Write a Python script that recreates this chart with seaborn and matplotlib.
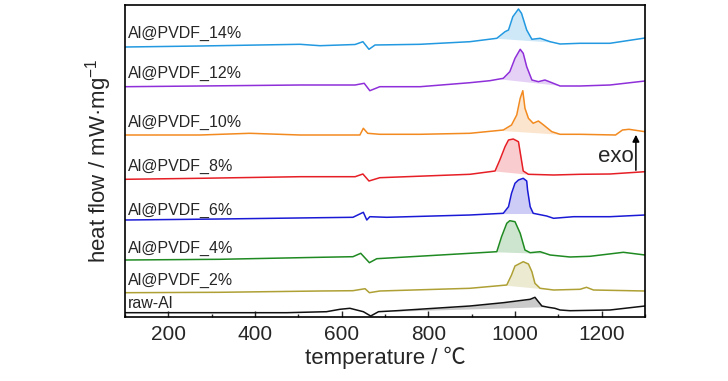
import numpy as np
import pandas as pd
import matplotlib
matplotlib.use("Agg")
import matplotlib.pyplot as plt
import seaborn as sns
from matplotlib.ticker import MultipleLocator

# sample names, top to bottom
samples = ['Al@PVDF_14%', 'Al@PVDF_12%', 'Al@PVDF_10%', 'Al@PVDF_8%',
           'Al@PVDF_6%', 'Al@PVDF_4%', 'Al@PVDF_2%', 'raw-Al']
colors = ['#2299e0', '#8e2fd9', '#f28a20', '#e61e25',
          '#1a1ad6', '#1f8a22', '#aea034', '#111111']

# stacked (offset) heat flow curves
t_14 = [100, 273, 504, 550, 631, 649, 663, 677, 781, 896, 958, 977, 985, 995, 1008, 1015, 1027, 1039, 1058, 1081, 1104, 1150, 1219, 1300]
hf_14 = [271, 272, 273.7, 272.3, 273.5, 276.3, 268.7, 273, 273.7, 276.3, 279.7, 286.3, 288, 301.3, 309, 304.7, 288, 278.7, 279.7, 276.3, 274, 274.7, 274.7, 280]

t_12 = [100, 273, 504, 631, 652, 665, 688, 781, 896, 942, 973, 988, 1000, 1012, 1019, 1027, 1039, 1054, 1069, 1085, 1104, 1150, 1219, 1300]
hf_12 = [231.3, 232, 233, 233, 234.7, 227.3, 231.3, 231.3, 235.3, 237.3, 239.7, 246.3, 259.7, 268.7, 264.7, 251.3, 238, 236.3, 238, 235.3, 232, 232, 233, 237]

t_10 = [100, 273, 388, 504, 642, 650, 660, 688, 781, 896, 973, 992, 1004, 1012, 1018, 1023, 1031, 1042, 1054, 1066, 1085, 1104, 1150, 1232, 1248, 1263, 1300]
hf_10 = [183, 183, 184.7, 183, 183, 189.7, 184.7, 183.7, 183.7, 184.7, 188, 193, 203, 219.7, 227.3, 209.7, 199.7, 194.7, 197, 193, 186.3, 183.7, 183.7, 183, 188, 188.7, 186.3]

t_8 = [100, 273, 504, 631, 649, 663, 688, 896, 954, 965, 977, 985, 996, 1008, 1013, 1019, 1031, 1089, 1150, 1219, 1300]
hf_8 = [138.7, 139.7, 141.3, 141.3, 144, 137, 140.3, 143.7, 147, 158, 171.3, 178, 179, 176.3, 163, 147, 143.7, 143, 143.7, 144, 146.3]

t_6 = [100, 319, 550, 626, 650, 658, 665, 704, 896, 973, 985, 992, 1000, 1008, 1019, 1027, 1029, 1035, 1042, 1073, 1089, 1135, 1219, 1300]
hf_6 = [98, 99, 100.3, 100.7, 105.7, 98, 101.3, 100.7, 103, 104.7, 111.3, 124.7, 134.7, 138, 139.7, 137, 128, 111.3, 104.7, 102, 99.7, 101.3, 101.3, 103]

t_4 = [100, 319, 550, 626, 644, 664, 681, 896, 958, 969, 981, 988, 1000, 1012, 1023, 1035, 1058, 1081, 1127, 1173, 1250, 1300]
hf_4 = [58, 58.7, 60.7, 61.3, 64.7, 55.3, 59.3, 64.7, 66.3, 81.3, 94.7, 97.3, 96.3, 84.7, 68, 65.3, 66.3, 63, 61, 61.7, 65.7, 63]

t_2 = [100, 319, 550, 626, 654, 664, 688, 896, 981, 992, 1000, 1019, 1031, 1039, 1046, 1058, 1089, 1150, 1165, 1181, 1300]
hf_2 = [25.3, 25.7, 27, 27.3, 29.3, 25.3, 27, 29.7, 33, 43, 52, 56.3, 54, 46.3, 34.7, 29.7, 28, 28.7, 30.7, 28, 27]

t_raw = [100, 242, 473, 565, 596, 619, 650, 667, 685, 727, 896, 973, 1035, 1046, 1054, 1062, 1077, 1092, 1104, 1127, 1219, 1300]
hf_raw = [5.3, 5.3, 5.3, 6.3, 8.7, 9.7, 6.3, 2, 6.3, 7.3, 12, 15.3, 18.7, 20.7, 16.3, 12, 10.7, 9.7, 8, 7.3, 8, 12]

# temperature range of the shaded peak for each curve
fill_start = [958, 965, 965, 954, 960, 954, 977, 690]
fill_end = [1085, 1100, 1104, 1031, 1044, 1070, 1070, 1070]

# label height (same units as heat flow)
label_y = [285, 245, 196, 152, 108, 70, 38, 15]

t_all = [t_14, t_12, t_10, t_8, t_6, t_4, t_2, t_raw]
hf_all = [hf_14, hf_12, hf_10, hf_8, hf_6, hf_4, hf_2, hf_raw]

df = pd.concat([pd.DataFrame({'T': t, 'hf': h, 'sample': s})
                for t, h, s in zip(t_all, hf_all, samples)], ignore_index=True)

sns.set_style('ticks')
plt.rcParams['font.family'] = ['Liberation Sans', 'Noto Sans CJK SC']
plt.rcParams['mathtext.fontset'] = 'custom'
plt.rcParams['mathtext.rm'] = 'Liberation Sans'

fig = plt.figure(figsize=(7.28, 3.81), dpi=100)
ax = fig.add_axes([125 / 728, 1 - 317 / 381, 520 / 728, 312 / 381])

sns.lineplot(data=df, x='T', y='hf', hue='sample', palette=dict(zip(samples, colors)),
             sort=False, estimator=None, legend=False, linewidth=1.1, ax=ax)

# shaded peaks
for t, h, c, a, b in zip(t_all, hf_all, colors, fill_start, fill_end):
    t = np.array(t, dtype=float)
    h = np.array(h, dtype=float)
    m = (t >= a) & (t <= b)
    tt = np.concatenate([[a], t[m], [b]])
    hh = np.interp(tt, t, h)
    base = np.interp(tt, [a, b], [hh[0], hh[-1]])
    ax.fill_between(tt, base, hh, color=c, alpha=0.22, linewidth=0)

for s, y in zip(samples, label_y):
    ax.text(107, y, s, fontsize=11.5, va='center', ha='left')

# exo arrow
ax.annotate('', xy=(1279, 186), xytext=(1279, 145),
            arrowprops=dict(arrowstyle='-|>', color='black', lw=1.1, mutation_scale=10))
ax.text(1232, 161, 'exo', fontsize=16, ha='center', va='center')

ax.set_xlim(100, 1300)
ax.set_ylim(1, 313)
ax.xaxis.set_major_locator(MultipleLocator(200))
ax.xaxis.set_minor_locator(MultipleLocator(100))
ax.tick_params(axis='x', which='major', direction='in', length=4, width=1, labelsize=15, pad=6)
ax.tick_params(axis='x', which='minor', direction='in', length=2.5, width=1)
ax.set_yticks([])
for sp in ax.spines.values():
    sp.set_visible(True)
    sp.set_linewidth(1.2)
    sp.set_color('black')

ax.set_xlabel('temperature / ℃', fontsize=16, labelpad=2)
ax.set_ylabel('heat flow / mW·mg$^{-1}$', fontsize=16, labelpad=8)

fig.savefig('out.png', dpi=100)
